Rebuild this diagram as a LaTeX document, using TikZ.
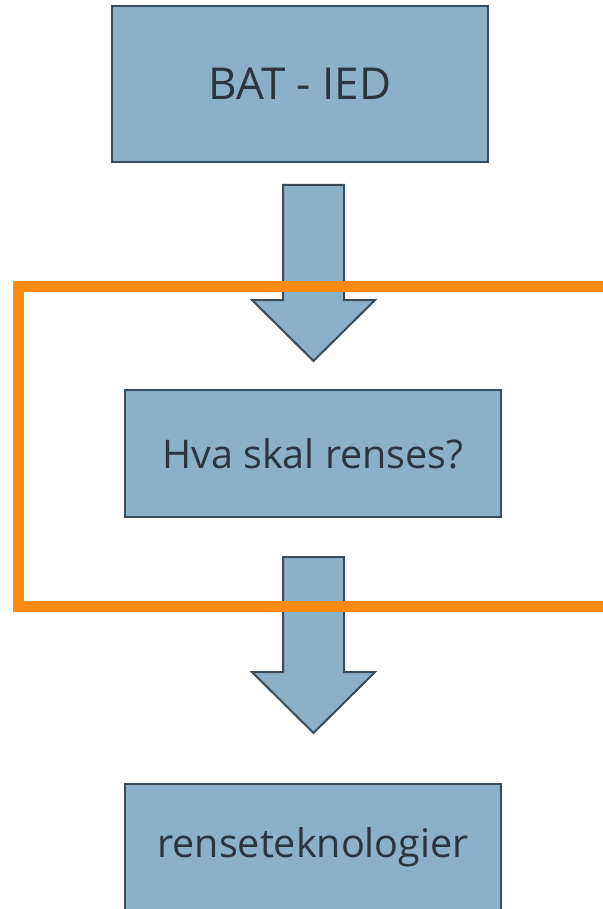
\documentclass[tikz,border=0pt]{standalone}
\usepackage{fontspec}
\setmainfont{Open Sans}
\definecolor{boxfill}{HTML}{8DB0C9}
\definecolor{boxline}{HTML}{3B4B58}
\definecolor{boxtext}{HTML}{2A3540}
\definecolor{frameorange}{HTML}{FF8C11}
\begin{document}
\begin{tikzpicture}[x=1pt,y=-1pt,
  stepbox/.style={draw=boxline, line width=2pt, fill=boxfill, text=boxtext,
    minimum width=376pt, inner sep=0pt, align=center},
  arrowbody/.style={draw=boxline, line width=2pt, fill=boxfill, line join=miter},
  downarr/.pic={
    \draw[arrowbody] (-30.5,0) -- (30.5,0) -- (30.5,115) -- (61.5,115)
      -- (0,176) -- (-61.5,115) -- (-30.5,115) -- cycle;
  }]
\useasboundingbox (0,0) rectangle (602,909);
\fill[white] (0,0) rectangle (602,909);

% process boxes
\node[stepbox, minimum height=156pt, font=\fontsize{44}{52}\selectfont] (bat) at (300,84) {BAT - IED};
\node[stepbox, minimum height=127pt, font=\fontsize{39.5}{46}\selectfont] (hva) at (313,453.5) {Hva skal renses?};
\node[stepbox, minimum height=127pt, font=\fontsize{39.5}{46}\selectfont] (rense) at (313,847.5) {renseteknologier};

% block arrows between the boxes
\coordinate (a1) at (313.5,185);
\coordinate (a2) at (313.5,557);
\pic at (a1) {downarr};
\pic at (a2) {downarr};

% orange frame around the middle step, open past the right edge
\draw[frameorange, line width=11pt] (640,286) -- (18,286) -- (18,606) -- (640,606);
\end{tikzpicture}
\end{document}
